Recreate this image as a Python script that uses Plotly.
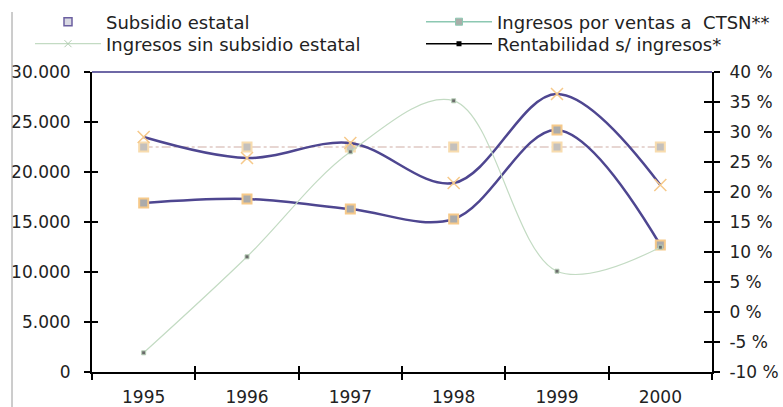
import plotly.graph_objects as go

# Data
years = ["1995", "1996", "1997", "1998", "1999", "2000"]
ingresos_sin_subsidio = [23500, 21400, 22900, 18900, 27800, 18700]
ingresos_ventas = [16900, 17300, 16300, 15300, 24200, 12700]
subsidio = [22500, 22500, 22500, 22500, 22500, 22500]
rentabilidad = [-6.8, 9.2, 26.7, 35.2, 6.8, 10.8]

left_ticks = [0, 5000, 10000, 15000, 20000, 25000, 30000]
right_ticks = [-10, -5, 0, 5, 10, 15, 20, 25, 30, 35, 40]
right_labels = ["-10 %", "-5 %", "0 %", "5 %", "10 %", "15 %", "20 %",
                "25 %", "30 %", "35 %", "40 %"]

PURPLE = "#4e4690"
ORANGE = "#f6c98a"
FONT = "DejaVu Sans"

# plot area in pixels: x 92..712, y 72..372
PW, PH = 620, 300

fig = go.Figure()

# dotted constant series
fig.add_trace(go.Scatter(x=years, y=subsidio, mode="lines+markers",
                         line=dict(color="#dfc9c4", width=1.5, dash="dashdot"),
                         marker=dict(symbol="square", size=9, color="#c4c0bc",
                                     line=dict(color="#f8dcae", width=2)),
                         showlegend=False))

# green line on right axis
fig.add_trace(go.Scatter(x=years, y=rentabilidad, yaxis="y2", mode="lines+markers",
                         line=dict(color="#c3dbc3", width=1.2, shape="spline"),
                         marker=dict(symbol="square", size=4, color="#6b6b6b",
                                     line=dict(color="#b8d0b8", width=1)),
                         showlegend=False))

# purple curves
fig.add_trace(go.Scatter(x=years, y=ingresos_ventas, mode="lines+markers",
                         line=dict(color=PURPLE, width=2.5, shape="spline"),
                         marker=dict(symbol="square", size=9, color="#ababab",
                                     line=dict(color=ORANGE, width=2)),
                         showlegend=False))
fig.add_trace(go.Scatter(x=years, y=ingresos_sin_subsidio, mode="lines+markers",
                         line=dict(color=PURPLE, width=2.5, shape="spline"),
                         marker=dict(symbol="x-thin-open", size=12, color=ORANGE,
                                     line=dict(color=ORANGE, width=1.5)),
                         showlegend=False))

# legend entries (styled like the original legend), one legend box each
fig.add_trace(go.Scatter(x=[None], y=[None], mode="markers", name="Subsidio estatal",
                         marker=dict(symbol="square", size=8, color="#d9d9e3",
                                     line=dict(color="#6b5fa0", width=1.5)),
                         legend="legend"))
fig.add_trace(go.Scatter(x=[None], y=[None], mode="lines+markers",
                         name="Ingresos sin subsidio estatal",
                         line=dict(color="#c3dbc3", width=1.2),
                         marker=dict(symbol="x-thin-open", size=7, color="#b0ccb0",
                                     line=dict(color="#b0ccb0", width=1)),
                         legend="legend3"))
fig.add_trace(go.Scatter(x=[None], y=[None], mode="lines+markers",
                         name="Ingresos por ventas a  CTSN**",
                         line=dict(color="#8cc8b2", width=1.5),
                         marker=dict(symbol="square", size=7, color="#a9aea9",
                                     line=dict(color="#8cc8b2", width=1)),
                         legend="legend2"))
fig.add_trace(go.Scatter(x=[None], y=[None], mode="lines+markers",
                         name="Rentabilidad s/ ingresos*",
                         line=dict(color="black", width=1.5),
                         marker=dict(symbol="square", size=5, color="black"),
                         legend="legend4"))

# dummy traces for the inside half of the crossing ticks
fig.add_trace(go.Scatter(x=years, y=[None] * 6, xaxis="x2", yaxis="y3",
                         showlegend=False, hoverinfo="skip"))
fig.add_trace(go.Scatter(x=years, y=[None] * 6, xaxis="x2", yaxis="y4",
                         showlegend=False, hoverinfo="skip"))

tick_font = dict(family=FONT, size=17, color="#222")
legend_style = dict(xanchor="left", yanchor="middle", bgcolor="rgba(0,0,0,0)",
                    font=dict(family=FONT, size=18, color="#222"),
                    itemwidth=66)
col1_x = (30 - 92) / PW
col2_x = (421 - 92) / PW
row1_y = (372 - 22) / PH
row2_y = (372 - 44) / PH

fig.update_layout(
    width=783, height=407,
    margin=dict(l=92, r=71, t=72, b=35, autoexpand=False),
    paper_bgcolor="white", plot_bgcolor="white",
    separators=",.",
    xaxis=dict(type="category", categoryorder="array", categoryarray=years,
               range=[-0.5, 5.5], tickson="boundaries", ticks="outside",
               ticklen=6, tickwidth=2, tickcolor="black",
               showline=True, linecolor="black", linewidth=2,
               showgrid=False, ticklabelstandoff=9, automargin=False,
               tickfont=dict(family=FONT, size=17, color="#222")),
    xaxis2=dict(type="category", categoryorder="array", categoryarray=years,
                range=[-0.5, 5.5], overlaying="x", anchor="y", side="bottom",
                tickson="boundaries", ticks="inside", ticklen=6, tickwidth=2,
                tickcolor="black", showticklabels=False, showline=False,
                showgrid=False, automargin=False),
    yaxis=dict(range=[0, 30000], tickvals=left_ticks, tickformat=",d",
               ticks="outside", ticklen=6, tickwidth=2, tickcolor="black",
               showline=True, linecolor="black", linewidth=2,
               showgrid=False, zeroline=False, ticklabelstandoff=10,
               automargin=False, tickfont=tick_font),
    yaxis2=dict(range=[-10, 40], tickvals=right_ticks, ticktext=right_labels,
                overlaying="y", side="right", anchor="x",
                ticks="outside", ticklen=6, tickwidth=2, tickcolor="black",
                showline=True, linecolor="black", linewidth=2,
                showgrid=False, zeroline=False, ticklabelstandoff=6,
                automargin=False, tickfont=tick_font),
    yaxis3=dict(range=[0, 30000], tickvals=left_ticks, overlaying="y",
                side="left", anchor="x2", ticks="inside", ticklen=6,
                tickwidth=2, tickcolor="black", showticklabels=False,
                showline=False, showgrid=False, zeroline=False, automargin=False),
    yaxis4=dict(range=[-10, 40], tickvals=right_ticks, overlaying="y",
                side="right", anchor="x2", ticks="inside", ticklen=8,
                tickwidth=2, tickcolor="black", showticklabels=False,
                showline=False, showgrid=False, zeroline=False, automargin=False),
    legend=dict(legend_style, x=col1_x, y=row1_y),
    legend2=dict(legend_style, x=col2_x, y=row1_y),
    legend3=dict(legend_style, x=col1_x, y=row2_y),
    legend4=dict(legend_style, x=col2_x, y=row2_y),
    showlegend=True,
)

# purple top border of plot area and grey frame line on the left
fig.add_shape(type="line", xref="paper", yref="paper", x0=0, x1=1, y0=1, y1=1,
              line=dict(color="#6e68a6", width=2))
fig.add_shape(type="line", xref="paper", yref="paper",
              x0=-80 / PW, x1=-80 / PW, y0=-35 / PH, y1=(372 - 12) / PH,
              line=dict(color="#9a9a9a", width=1))

# the page body has a default 8px margin; drop it so the figure sits at 0,0
fig.write_html("out.html", config={"displayModeBar": False},
               post_script="document.body.style.margin='0';")
